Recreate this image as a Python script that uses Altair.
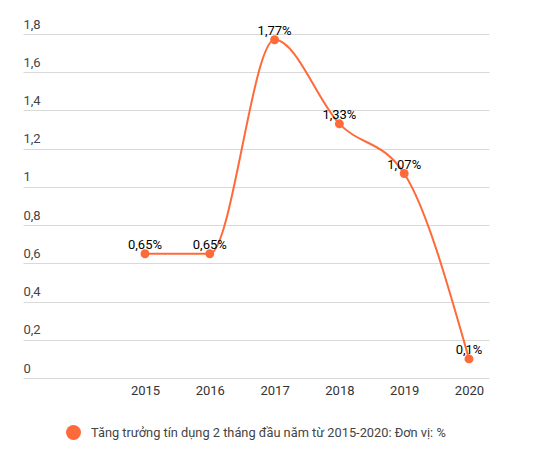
import pandas as pd
import altair as alt

years = [2015, 2016, 2017, 2018, 2019, 2020]
growth = [0.65, 0.65, 1.77, 1.33, 1.07, 0.1]
series_name = "Tăng trưởng tín dụng 2 tháng đầu năm từ 2015-2020: Đơn vị: %"
y_ticks = [0, 0.2, 0.4, 0.6, 0.8, 1, 1.2, 1.4, 1.6, 1.8]

orange = "#FF6A3A"

df = pd.DataFrame({
    "year": years,
    "growth": growth,
    "label": [f"{v:g}".replace(".", ",") + "%" for v in growth],
    "series": series_name,
})

x = alt.X("year:Q",
          scale=alt.Scale(domain=[2013.117, 2020.309], nice=False, zero=False),
          axis=alt.Axis(values=years, format="d", title=None, grid=False,
                        domain=False, ticks=False, labelPadding=6,
                        labelFontSize=13, labelColor="#333",
                        labelFont="Roboto"))
y = alt.Y("growth:Q",
          scale=alt.Scale(domain=[0, 1.8], nice=False),
          axis=alt.Axis(values=y_ticks, title=None, domain=False, ticks=False,
                        labelAlign="left", labelBaseline="bottom", labelPadding=0,
                        labelOffset=-3, labelFontSize=13, labelColor="#444",
                        labelFont="Roboto", gridColor="#d9d9d9",
                        labelExpr="replace(format(datum.value, '.1~f'), '.', ',')"))

base = alt.Chart(df).encode(x=x, y=y)

line = base.mark_line(interpolate="monotone", color=orange, strokeWidth=2)
points = base.mark_circle(size=80, opacity=1).encode(
    color=alt.Color("series:N", scale=alt.Scale(range=[orange]),
                    legend=alt.Legend(title=None, orient="none", legendX=42, legendY=390,
                                      symbolType="circle", symbolSize=225, padding=0,
                                      labelOffset=9, labelFontSize=12.8, labelColor="#444",
                                      labelFont="Roboto", labelLimit=500))
)
labels = base.mark_text(dy=-9, fontSize=13, color="#000", font="Roboto").encode(text="label:N")

chart = alt.layer(line, points, labels).properties(
    width=466, height=344,
    autosize=alt.AutoSizeParams(type="none"),
    padding={"left": 15, "top": 26, "right": 40, "bottom": 63},
).configure_view(stroke=None)

chart.save("out.html", embed_options={"renderer": "svg", "actions": False})
